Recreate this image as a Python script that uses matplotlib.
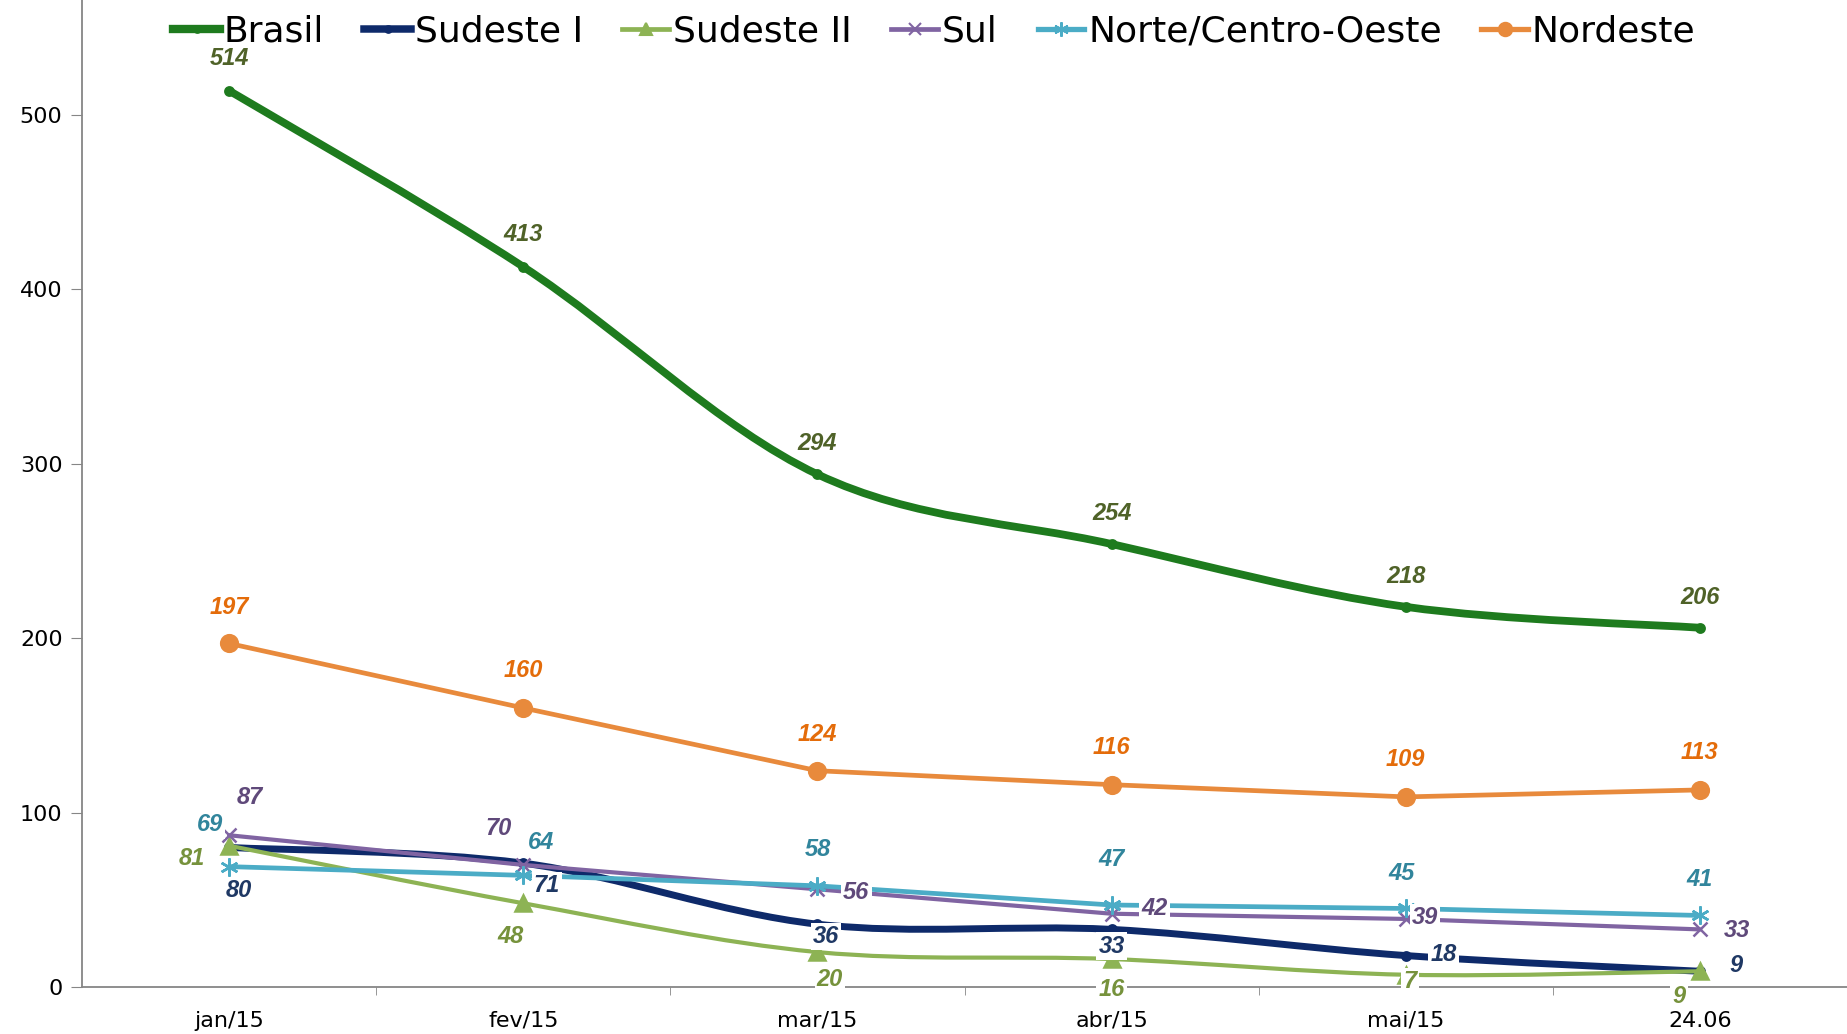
import numpy as np
import matplotlib.pyplot as plt
from matplotlib.path import Path
from matplotlib.patches import PathPatch
from matplotlib.lines import Line2D

months = ['jan/15', 'fev/15', 'mar/15', 'abr/15', 'mai/15', '24.06']

brasil = [514, 413, 294, 254, 218, 206]
sudeste1 = [80, 71, 36, 33, 18, 9]
sudeste2 = [81, 48, 20, 16, 7, 9]
sul = [87, 70, 56, 42, 39, 33]
norte = [69, 64, 58, 47, 45, 41]
nordeste = [197, 160, 124, 116, 109, 113]

names = ['Brasil', 'Sudeste I', 'Sudeste II', 'Sul', 'Norte/Centro-Oeste', 'Nordeste']
series = [brasil, sudeste1, sudeste2, sul, norte, nordeste]

line_colors = ['#1E7B1E', '#0E2A6A', '#8DB354', '#8064A2', '#4BACC6', '#E88A3C']
label_colors = ['#4F6228', '#1F3864', '#76923C', '#5F497A', '#31859C', '#E46C0A']
widths = [5.6, 5.0, 3.0, 3.0, 3.4, 3.4]
markers = ['o', 'o', '^', 'x', (6, 2, 0), 'o']
msizes = [6, 6, 11, 10, 13, 12]
smooth = [True, True, True, False, False, False]

# label offsets in points (dx, dy), one list per series
offsets = [
    [(0, 23), (0, 23), (0, 22), (0, 22), (0, 22), (0, 22)],
    [(7, -31), (17, -16), (6, -9), (0, -12), (27, 1), (26, 4)],
    [(-27, -9), (-9, -24), (9, -20), (0, -22), (3, -5), (-15, -18)],
    [(15, 27), (-18, 26), (28, -2), (31, 4), (14, 1), (27, -1)],
    [(-14, 30), (13, 24), (0, 26), (0, 33), (-3, 25), (0, 26)],
    [(0, 26), (0, 27), (0, 26), (0, 27), (0, 27), (0, 27)],
]

plt.rcParams['font.family'] = ['DejaVu Sans']

fig = plt.figure(figsize=(18.47, 10.34), dpi=100)
ax = fig.add_axes([0.0444, 0.0455, 0.9556, 0.9545])

x = np.arange(len(months))


def smooth_path(xs, ys):
    pts = np.column_stack([xs, ys]).astype(float)
    n = len(pts)
    verts = [pts[0]]
    codes = [Path.MOVETO]
    for i in range(n - 1):
        p0 = pts[max(i - 1, 0)]
        p1 = pts[i]
        p2 = pts[i + 1]
        p3 = pts[min(i + 2, n - 1)]
        c1 = p1 + (p2 - p0) / 6.0
        c2 = p2 - (p3 - p1) / 6.0
        verts += [c1, c2, p2]
        codes += [Path.CURVE4] * 3
    return Path(verts, codes)


handles = []
for k, ys in enumerate(series):
    z = 2 + k * 0.1
    if smooth[k]:
        patch = PathPatch(smooth_path(x, ys), facecolor='none', edgecolor=line_colors[k],
                          lw=widths[k], capstyle='round', joinstyle='round', zorder=z)
        ax.add_patch(patch)
        ax.plot(x, ys, linestyle='none', marker=markers[k], ms=msizes[k],
                color=line_colors[k], mew=1.8, zorder=z)
    else:
        ax.plot(x, ys, color=line_colors[k], lw=widths[k], marker=markers[k],
                ms=msizes[k], mew=1.8, zorder=z, solid_capstyle='round')
    handles.append(Line2D([], [], color=line_colors[k], lw=widths[k] + 0.4,
                          marker=markers[k], ms=msizes[k] * 0.8, mew=1.5))

for k, ys in enumerate(series):
    for i, v in enumerate(ys):
        dx, dy = offsets[k][i]
        ax.annotate(str(v), (x[i], v), xytext=(dx, dy), textcoords='offset points',
                    ha='center', va='center', fontsize=17, fontweight='bold',
                    fontstyle='italic', color=label_colors[k],
                    family=['Liberation Sans', 'DejaVu Sans'],
                    bbox=dict(facecolor='white', edgecolor='none', pad=1.5), zorder=10)

ax.set_xlim(-0.5, 5.5)
ax.set_ylim(0, 566)
ax.set_yticks([0, 100, 200, 300, 400, 500])
ax.set_xticks(x)
ax.set_xticklabels(months)
ax.set_xticks(np.arange(0.5, 5.5, 1), minor=True)
ax.tick_params(axis='x', which='major', length=0, labelsize=16, pad=17)
ax.tick_params(axis='x', which='minor', length=6, color='#868686')
ax.tick_params(axis='y', length=8, color='#868686', labelsize=16, pad=6)

for side in ['top', 'right']:
    ax.spines[side].set_visible(False)
for side in ['left', 'bottom']:
    ax.spines[side].set_color('#868686')
    ax.spines[side].set_linewidth(1.3)

leg = ax.legend(handles, names, loc='center', bbox_to_anchor=(0.483, 0.968), ncol=6,
                frameon=False, handlelength=1.3, handletextpad=0.1, columnspacing=1.1,
                prop={'size': 26})

fig.savefig('out.png', dpi=100, facecolor='white')
